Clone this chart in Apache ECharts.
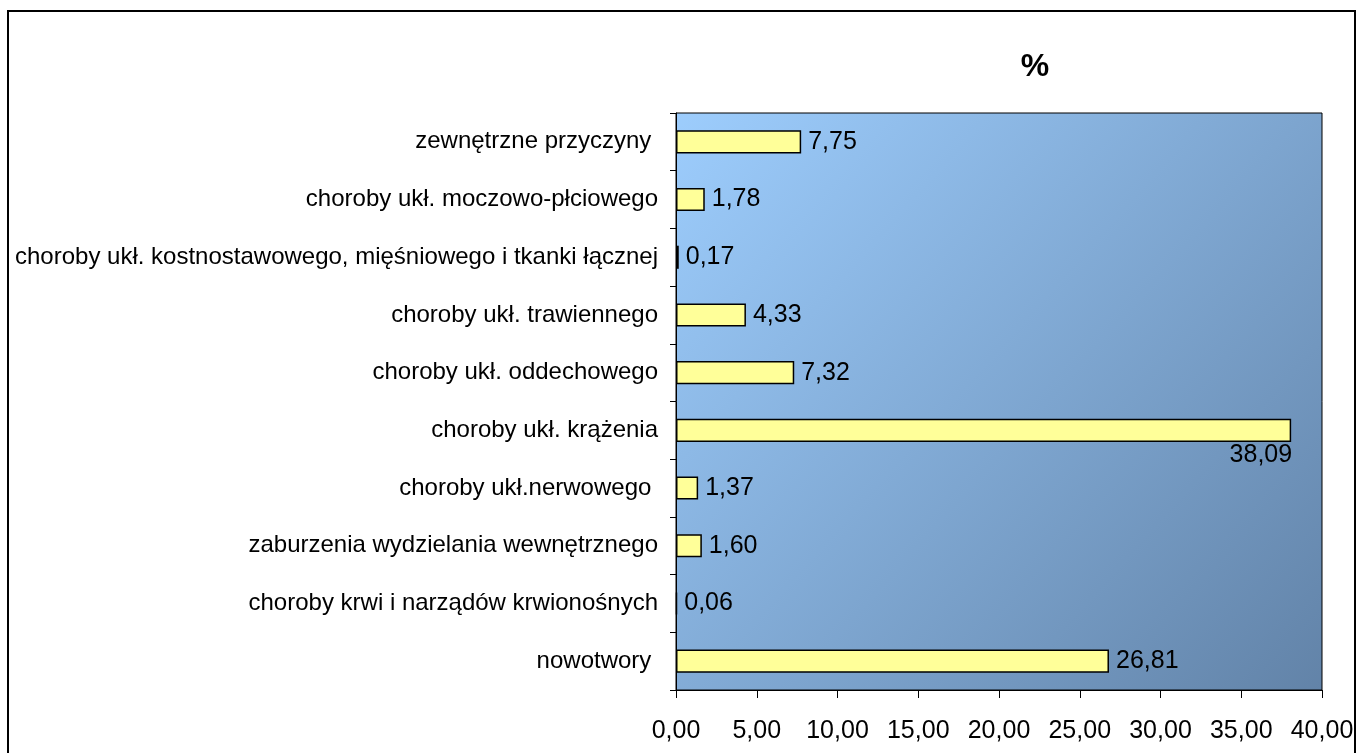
<!DOCTYPE html>
<html>
<head>
<meta charset="utf-8">
<script src="https://cdn.jsdelivr.net/npm/echarts@6/dist/echarts.min.js"></script>
<style>
html,body{margin:0;padding:0;background:#fff;}
#chart{width:1358px;height:753px;}
</style>
</head>
<body>
<div id="chart"></div>
<script>
const categories = [
  'nowotwory ',
  'choroby krwi i narządów krwionośnych',
  'zaburzenia wydzielania wewnętrznego',
  'choroby ukł.nerwowego ',
  'choroby ukł. krążenia',
  'choroby ukł. oddechowego',
  'choroby ukł. trawiennego',
  'choroby ukł. kostnostawowego, mięśniowego i tkanki łącznej',
  'choroby ukł. moczowo-płciowego',
  'zewnętrzne przyczyny '
];
const values = [26.81, 0.06, 1.60, 1.37, 38.09, 7.32, 4.33, 0.17, 1.78, 7.75];
const xTicks = [0, 5, 10, 15, 20, 25, 30, 35, 40];
const unitLabel = '%';

const fmt = v => v.toFixed(2).replace('.', ',');
const FONT = '"Liberation Sans", Arial, sans-serif';

const chart = echarts.init(document.getElementById('chart'));
const maxVal = Math.max(...values);
const data = values.map(v => {
  const item = { value: v };
  if (v === maxVal) {
    item.label = {
      position: ['100%', '100%'],
      align: 'right',
      verticalAlign: 'top',
      offset: [1, 1]
    };
  }
  return item;
});

chart.setOption({
  animation: false,
  backgroundColor: '#ffffff',
  graphic: [{
    type: 'rect',
    shape: { x: 8, y: 11, width: 1347, height: 800 },
    style: { fill: 'none', stroke: '#000', lineWidth: 2 },
    z: 100
  }],
  title: {
    text: unitLabel,
    left: 1030,
    top: 46,
    textAlign: 'center',
    textStyle: { fontFamily: FONT, fontSize: 32, fontWeight: 'bold', color: '#000' }
  },
  grid: {
    left: 676, top: 113, width: 646, height: 577,
    show: true,
    borderColor: '#000',
    borderWidth: 1,
    backgroundColor: {
      type: 'linear', x: 0, y: 0, x2: 1, y2: 1,
      colorStops: [
        { offset: 0, color: '#9DCDFD' },
        { offset: 1, color: '#6283A8' }
      ]
    }
  },
  xAxis: {
    type: 'value',
    min: xTicks[0],
    max: xTicks[xTicks.length - 1],
    interval: xTicks[1] - xTicks[0],
    axisLine: { show: true, lineStyle: { color: '#000', width: 1 } },
    axisTick: { show: true, length: 8, lineStyle: { color: '#000' } },
    splitLine: { show: false },
    axisLabel: {
      margin: 29,
      fontFamily: FONT, fontSize: 25, color: '#000',
      formatter: v => fmt(v)
    }
  },
  yAxis: {
    type: 'category',
    data: categories,
    axisLine: { show: true, lineStyle: { color: '#000', width: 1 } },
    axisTick: { show: true, length: 6, alignWithLabel: false, lineStyle: { color: '#000' } },
    axisLabel: {
      margin: 18,
      fontFamily: FONT, fontSize: 24, color: '#000'
    }
  },
  series: [{
    type: 'bar',
    data: data,
    barWidth: '40%',
    itemStyle: { color: '#FFFF99', borderColor: '#000', borderWidth: 1.5 },
    label: {
      show: true,
      position: 'right',
      distance: 7,
      fontFamily: FONT, fontSize: 25, color: '#000',
      formatter: p => fmt(p.value)
    }
  }]
});
</script>
</body>
</html>
